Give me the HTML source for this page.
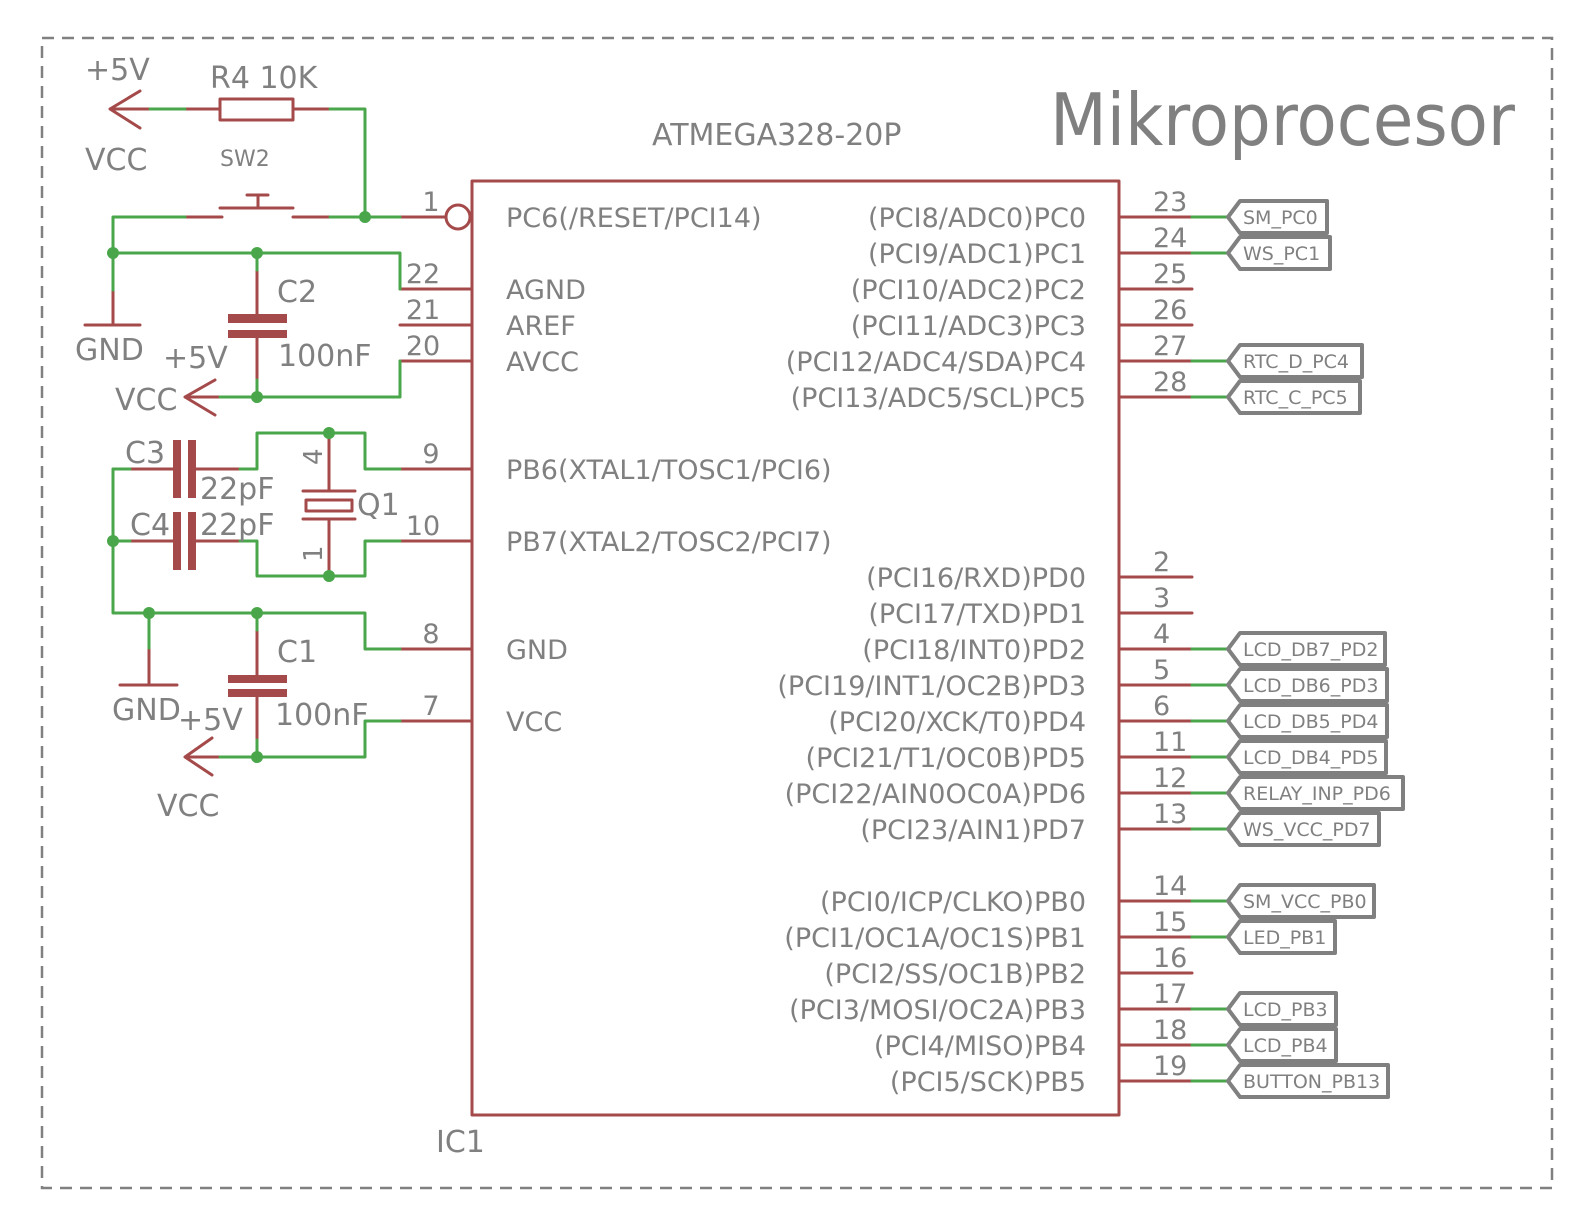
<!DOCTYPE html>
<html><head><meta charset="utf-8"><style>
html,body{margin:0;padding:0;background:#fff}
svg text{font-family:"DejaVu Sans","Liberation Sans",sans-serif;fill:#808080}
</style></head><body>
<svg width="1569" height="1217" viewBox="0 0 1569 1217" xmlns="http://www.w3.org/2000/svg">
<rect x="42" y="38" width="1510" height="1150" fill="none" stroke="#808080" stroke-width="2.5" stroke-dasharray="12,8"/>
<g fill="none" stroke-linecap="round" stroke-linejoin="round">
<rect x="472" y="181" width="647" height="934" stroke="#a54a4a" stroke-width="3"/>
<g stroke="#a54a4a" stroke-width="3">
<line x1="400" y1="217" x2="446" y2="217"/><circle cx="458" cy="217" r="12"/>
<line x1="400" y1="289" x2="472" y2="289"/><line x1="400" y1="325" x2="472" y2="325"/><line x1="400" y1="361" x2="472" y2="361"/>
<line x1="400" y1="469" x2="472" y2="469"/><line x1="400" y1="541" x2="472" y2="541"/>
<line x1="400" y1="649" x2="472" y2="649"/><line x1="400" y1="721" x2="472" y2="721"/>
<path d="M1119 217H1192M1119 253H1192M1119 289H1192M1119 325H1192M1119 361H1192M1119 397H1192M1119 577H1192M1119 613H1192M1119 649H1192M1119 685H1192M1119 721H1192M1119 757H1192M1119 793H1192M1119 829H1192M1119 901H1192M1119 937H1192M1119 973H1192M1119 1009H1192M1119 1045H1192M1119 1081H1192"/>
<path d="M140 91L110 109L140 128M110 109H150M185 109H220M293 109H330"/>
<rect x="220" y="99" width="73" height="21"/>
<path d="M185 217H222M293 217H330M220 208H293M258 208V195M247 195H268"/>
<path d="M113 290V323M85 325H140"/>
<path d="M257 270V314M257 338V380"/>
<path d="M215 380L185 397L215 415M185 397H220"/>
<path d="M130 469H175M195 469H240M130 541H175M195 541H240"/>
<path d="M329 433V490M303 491H355M303 519H355M329 520V576"/>
<rect x="306" y="500" width="46" height="11"/>
<path d="M149 648V685M120 685H177M257 630V675M257 697V740"/>
<path d="M212 738L185 757L212 775M185 757H220"/>
</g>
<g fill="#a54a4a" stroke="none">
<rect x="228" y="314" width="59" height="9"/><rect x="228" y="330" width="59" height="8"/>
<rect x="228" y="675" width="59" height="8"/><rect x="228" y="689" width="59" height="8"/>
<rect x="173" y="440" width="8" height="58"/><rect x="188" y="440" width="8" height="58"/>
<rect x="173" y="512" width="8" height="58"/><rect x="188" y="512" width="8" height="58"/>
</g>
<g stroke="#4aa64a" stroke-width="3">
<path d="M150 109H185M330 109H365V217M330 217H400M185 217H113V290M113 253H400V289M400 361V397H220"/>
<path d="M257 253V270M257 380V397"/>
<path d="M113 469H130M240 469H257V433H365V469H400M113 541H130M240 541H257V576H365V541H400"/>
<path d="M113 469V613H365V649H400M149 613V648M257 613V630M257 740V757M220 757H365V721H400"/>
<path d="M1192 217H1228M1192 253H1228M1192 361H1228M1192 397H1228M1192 649H1228M1192 685H1228M1192 721H1228M1192 757H1228M1192 793H1228M1192 829H1228M1192 901H1228M1192 937H1228M1192 1009H1228M1192 1045H1228M1192 1081H1228"/>
</g>
<g fill="#4aa64a" stroke="none">
<circle cx="365" cy="217" r="6"/><circle cx="113" cy="253" r="6"/><circle cx="257" cy="253" r="6"/><circle cx="257" cy="397" r="6"/>
<circle cx="329" cy="433" r="6"/><circle cx="329" cy="576" r="6"/><circle cx="113" cy="541" r="6"/>
<circle cx="149" cy="613" r="6"/><circle cx="257" cy="613" r="6"/><circle cx="257" cy="757" r="6"/>
</g>
<g stroke="#808080" stroke-width="4">
<path d="M1228 217L1240 201H1327V233H1240Z"/>
<path d="M1228 253L1240 237H1330V269H1240Z"/>
<path d="M1228 361L1240 345H1362V377H1240Z"/>
<path d="M1228 397L1240 381H1360V413H1240Z"/>
<path d="M1228 649L1240 633H1385V665H1240Z"/>
<path d="M1228 685L1240 669H1387V701H1240Z"/>
<path d="M1228 721L1240 705H1387V737H1240Z"/>
<path d="M1228 757L1240 741H1386V773H1240Z"/>
<path d="M1228 793L1240 777H1403V809H1240Z"/>
<path d="M1228 829L1240 813H1379V845H1240Z"/>
<path d="M1228 901L1240 885H1374V917H1240Z"/>
<path d="M1228 937L1240 921H1335V953H1240Z"/>
<path d="M1228 1009L1240 993H1336V1025H1240Z"/>
<path d="M1228 1045L1240 1029H1336V1061H1240Z"/>
<path d="M1228 1081L1240 1065H1388V1097H1240Z"/>
</g>
</g>
<g font-size="19">
<text x="1243" y="224">SM_PC0</text><text x="1243" y="260">WS_PC1</text>
<text x="1243" y="368">RTC_D_PC4</text><text x="1243" y="404">RTC_C_PC5</text>
<text x="1243" y="656">LCD_DB7_PD2</text><text x="1243" y="692">LCD_DB6_PD3</text>
<text x="1243" y="728">LCD_DB5_PD4</text><text x="1243" y="764">LCD_DB4_PD5</text>
<text x="1243" y="800">RELAY_INP_PD6</text><text x="1243" y="836">WS_VCC_PD7</text>
<text x="1243" y="908">SM_VCC_PB0</text><text x="1243" y="944">LED_PB1</text>
<text x="1243" y="1016">LCD_PB3</text><text x="1243" y="1052">LCD_PB4</text>
<text x="1243" y="1088">BUTTON_PB13</text>
</g>
<g font-size="27">
<text x="506" y="227">PC6(/RESET/PCI14)</text>
<text x="506" y="299">AGND</text><text x="506" y="335">AREF</text><text x="506" y="371">AVCC</text>
<text x="506" y="479">PB6(XTAL1/TOSC1/PCI6)</text><text x="506" y="551">PB7(XTAL2/TOSC2/PCI7)</text>
<text x="506" y="659">GND</text><text x="506" y="731">VCC</text>
<g text-anchor="end">
<text x="1086" y="227">(PCI8/ADC0)PC0</text><text x="1086" y="263">(PCI9/ADC1)PC1</text>
<text x="1086" y="299">(PCI10/ADC2)PC2</text><text x="1086" y="335">(PCI11/ADC3)PC3</text>
<text x="1086" y="371">(PCI12/ADC4/SDA)PC4</text><text x="1086" y="407">(PCI13/ADC5/SCL)PC5</text>
<text x="1086" y="587">(PCI16/RXD)PD0</text><text x="1086" y="623">(PCI17/TXD)PD1</text>
<text x="1086" y="659">(PCI18/INT0)PD2</text><text x="1086" y="695">(PCI19/INT1/OC2B)PD3</text>
<text x="1086" y="731">(PCI20/XCK/T0)PD4</text><text x="1086" y="767">(PCI21/T1/OC0B)PD5</text>
<text x="1086" y="803">(PCI22/AIN0OC0A)PD6</text><text x="1086" y="839">(PCI23/AIN1)PD7</text>
<text x="1086" y="911">(PCI0/ICP/CLKO)PB0</text><text x="1086" y="947">(PCI1/OC1A/OC1S)PB1</text>
<text x="1086" y="983">(PCI2/SS/OC1B)PB2</text><text x="1086" y="1019">(PCI3/MOSI/OC2A)PB3</text>
<text x="1086" y="1055">(PCI4/MISO)PB4</text><text x="1086" y="1091">(PCI5/SCK)PB5</text>
</g>
<text x="1153" y="211">23</text><text x="1153" y="247">24</text><text x="1153" y="283">25</text><text x="1153" y="319">26</text><text x="1153" y="355">27</text><text x="1153" y="391">28</text>
<text x="1153" y="571">2</text><text x="1153" y="607">3</text><text x="1153" y="643">4</text><text x="1153" y="679">5</text><text x="1153" y="715">6</text>
<text x="1153" y="751">11</text><text x="1153" y="787">12</text><text x="1153" y="823">13</text>
<text x="1153" y="895">14</text><text x="1153" y="931">15</text><text x="1153" y="967">16</text><text x="1153" y="1003">17</text><text x="1153" y="1039">18</text><text x="1153" y="1075">19</text>
<g text-anchor="middle">
<text x="431" y="211">1</text><text x="423" y="283">22</text><text x="423" y="319">21</text><text x="423" y="355">20</text>
<text x="431" y="463">9</text><text x="423" y="535">10</text><text x="431" y="643">8</text><text x="431" y="715">7</text>
</g>
</g>
<g font-size="30">
<text x="85" y="80">+5V</text><text x="85" y="170">VCC</text>
<text x="210" y="88">R4  10K</text>
<text x="277" y="302">C2</text><text x="278" y="366">100nF</text>
<text x="75" y="360">GND</text><text x="163" y="368">+5V</text><text x="115" y="410">VCC</text>
<text x="125" y="463">C3</text><text x="200" y="499">22pF</text>
<text x="130" y="535">C4</text><text x="200" y="535">22pF</text>
<text x="357" y="515">Q1</text>
<text x="277" y="662">C1</text><text x="112" y="720">GND</text><text x="178" y="730">+5V</text><text x="275" y="725">100nF</text>
<text x="157" y="816">VCC</text>
<text x="652" y="145">ATMEGA328-20P</text>
<text x="436" y="1152">IC1</text>
</g>
<text x="220" y="166" font-size="22">SW2</text>
<text x="0" y="0" font-size="26" transform="translate(322,465) rotate(-90)">4</text>
<text x="0" y="0" font-size="26" transform="translate(322,562) rotate(-90)">1</text>
<text x="1050" y="145" font-size="72" textLength="465" lengthAdjust="spacingAndGlyphs">Mikroprocesor</text>
</svg>
</body></html>
